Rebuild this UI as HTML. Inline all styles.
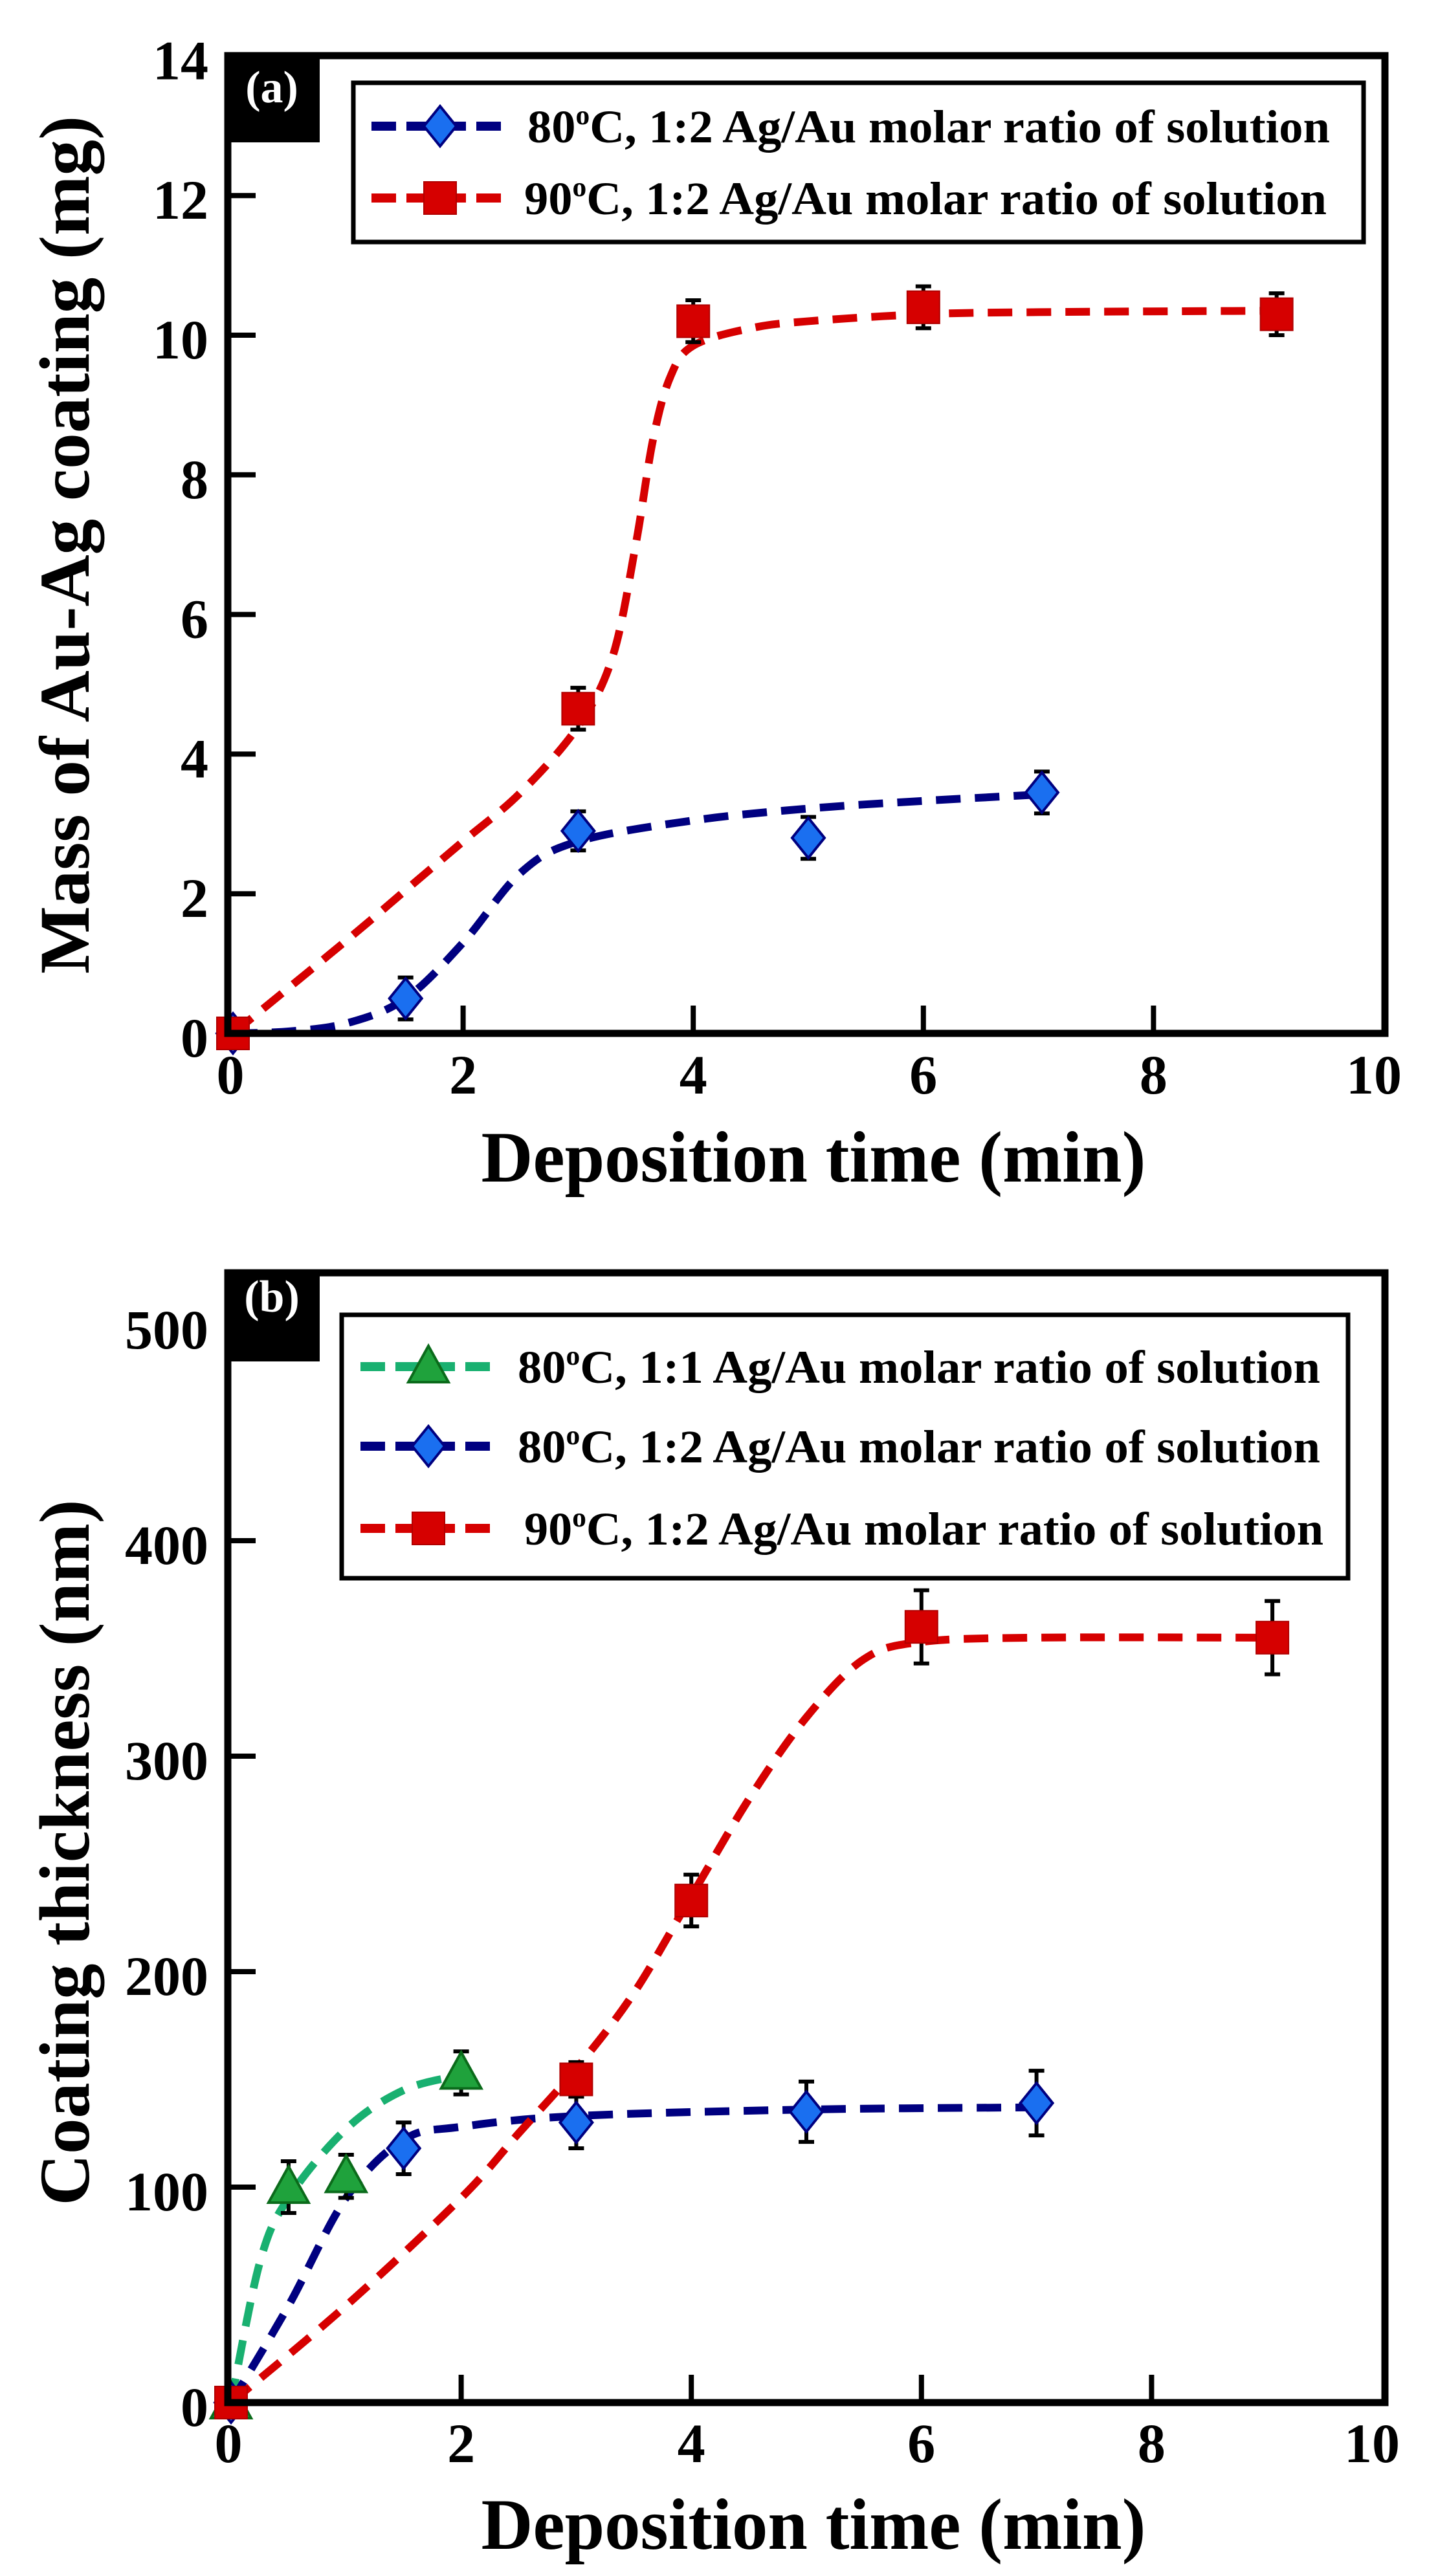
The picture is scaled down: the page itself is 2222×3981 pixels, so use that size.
<!DOCTYPE html>
<html><head><meta charset="utf-8"><style>
html,body{margin:0;padding:0;background:#fff;}
svg{display:block;}
text{font-family:"Liberation Serif",serif;font-weight:bold;fill:#000;}
</style></head><body>
<svg id="fig" width="2222" height="3981" viewBox="0 0 2222 3981" xmlns="http://www.w3.org/2000/svg"></svg>
<script>
// ---------- data: panel a (mass, mg) ----------
const aBlueX = [0, 1.5, 3, 5, 7.03];
const aBlueY = [0, 0.5, 2.9, 2.8, 3.45];
const aBlueErr = [0, 0.3, 0.28, 0.3, 0.3];
const aRedX = [0, 3, 4, 6, 9.07];
const aRedY = [0, 4.65, 10.2, 10.4, 10.3];
const aRedErr = [0, 0.3, 0.3, 0.3, 0.3];
const aBlueFitX = [0, 0.5, 1, 1.5, 2, 2.5, 3, 4, 5, 6, 7];
const aBlueFitY = [0, 0.03, 0.15, 0.5, 1.3, 2.3, 2.75, 3.05, 3.22, 3.33, 3.42];
const aRedFitX = [0, 1, 1.5, 2, 2.5, 3, 3.3, 3.5, 3.65, 3.8, 4, 4.5, 5, 6, 7, 9.07];
const aRedFitY = [0, 1.35, 2.05, 2.75, 3.45, 4.4, 5.4, 7.0, 8.5, 9.4, 9.85, 10.1, 10.2, 10.3, 10.33, 10.35];
const aYTicks = [0, 2, 4, 6, 8, 10, 12, 14];
const xTicks = [0, 2, 4, 6, 8, 10];
// ---------- data: panel b (thickness, nm) ----------
const bGreenX = [0, 0.5, 1, 2];
const bGreenY = [0, 100, 105, 153];
const bGreenErr = [0, 12, 10, 10];
const bBlueX = [0, 1.5, 3, 5, 7];
const bBlueY = [0, 118, 130, 135, 139];
const bBlueErr = [0, 12, 12, 14, 15];
const bRedX = [0, 3, 4, 6, 9.05];
const bRedY = [0, 150, 233, 360, 355];
const bRedErr = [0, 8, 12, 17, 17];
const bGreenFitX = [0, 0.25, 0.5, 1, 1.5, 2];
const bGreenFitY = [0, 65, 95, 127, 145, 152];
const bBlueFitX = [0, 0.5, 1, 1.5, 2, 3, 5, 7];
const bBlueFitY = [0, 45, 95, 122, 128, 133, 136, 137];
const bRedFitX = [0, 1, 2, 2.5, 3, 3.5, 4, 4.5, 5, 5.5, 6, 7, 9];
const bRedFitY = [0, 45, 95, 125, 155, 190, 235, 280, 318, 345, 353, 355, 355];
const bYTicks = [0, 100, 200, 300, 400, 500];

const NS = "http://www.w3.org/2000/svg";
const svg = document.getElementById('fig');
function mk(tag, attrs, parent){
  const e = document.createElementNS(NS, tag);
  for (const k in attrs) e.setAttribute(k, attrs[k]);
  (parent||svg).appendChild(e);
  return e;
}
const RED = '#d60000', BLUE_F = '#1a6ff0', NAVY = '#000080', GREEN_L = '#19b070', GREEN_F = '#1fa23c', GREEN_S = '#0b6b1b';

function catmull(pts){
  let d = 'M' + pts[0][0] + ',' + pts[0][1];
  for (let i = 0; i < pts.length - 1; i++){
    const p0 = pts[Math.max(0,i-1)], p1 = pts[i], p2 = pts[i+1], p3 = pts[Math.min(pts.length-1,i+2)];
    const c1x = p1[0] + (p2[0]-p0[0])/6, c1y = p1[1] + (p2[1]-p0[1])/6;
    const c2x = p2[0] - (p3[0]-p1[0])/6, c2y = p2[1] - (p3[1]-p1[1])/6;
    d += ' C' + c1x + ',' + c1y + ' ' + c2x + ',' + c2y + ' ' + p2[0] + ',' + p2[1];
  }
  return d;
}
function marker(g, type, cx, cy){
  let m;
  if (type === 'square'){
    m = mk('rect', {x: cx-25, y: cy-25, width: 50, height: 50, fill: RED, stroke: '#b00000', 'stroke-width': 2}, g);
  } else if (type === 'diamond'){
    m = mk('polygon', {points: `${cx},${cy-31} ${cx+25},${cy} ${cx},${cy+31} ${cx-25},${cy}`, fill: BLUE_F, stroke: NAVY, 'stroke-width': 4}, g);
  } else {
    m = mk('polygon', {points: `${cx},${cy-32} ${cx+31},${cy+24} ${cx-31},${cy+24}`, fill: GREEN_F, stroke: GREEN_S, 'stroke-width': 4}, g);
  }
  return m;
}

function panel(cfg){
  const {name, x0, xu, y0, yu, frame, yTicks, series, label, ytitle, ytitleCy, ytitleLen, xtitleY, xlabY, legend} = cfg;
  const X = v => x0 + v*xu, Y = v => y0 - v*yu;
  const g = mk('g', {});
  
  
  series.forEach(s => {
    const pts = s.fx.map((v,i) => [X(v), Y(s.fy[i])]);
    const p = mk('path', {d: catmull(pts), fill: 'none', stroke: s.line, 'stroke-width': 12, 'stroke-dasharray': '38 22'}, g);
    
    
  });
  series.forEach(s => {
    s.x.forEach((v,i) => {
      const cx = X(v), cy = Y(s.y[i]);
      if (s.err[i] > 0){
        const t = Y(s.y[i]+s.err[i]), b = Y(s.y[i]-s.err[i]);
        const eb = mk('path', {d: `M${cx},${t} V${b} M${cx-12},${t} H${cx+12} M${cx-12},${b} H${cx+12}`, stroke: '#000', 'stroke-width': 6, fill: 'none'}, g);
        
        
      }
      const m = marker(g, s.marker, cx, cy);
      
      
    });
  });
  const fr = mk('rect', {x: frame[0], y: frame[1], width: frame[2]-frame[0], height: frame[3]-frame[1], fill: 'none', stroke: '#000', 'stroke-width': 11}, g);
  
  
  xTicks.forEach(t => {
    if (t > 0 && t < 10){
      const tk = mk('line', {x1: X(t), x2: X(t), y1: frame[3], y2: frame[3]-43, stroke: '#000', 'stroke-width': 8}, g);
      
      
    }
    const tl = mk('text', {x: X(t)-(t===0?4:0)+(t===10?-15:0), y: xlabY, 'font-size': 86, 'text-anchor': 'middle'}, g);
    tl.textContent = t;
    
    
  });
  yTicks.forEach((t, i) => {
    if (i > 0 && i < yTicks.length-1){
      const tk = mk('line', {x1: frame[0], x2: frame[0]+43, y1: Y(t), y2: Y(t), stroke: '#000', 'stroke-width': 8}, g);
      
      
    }
    const tl = mk('text', {x: 322, y: Y(t)+36, 'font-size': 86, 'text-anchor': 'end'}, g);
    tl.textContent = t;
    
    
  });
  const lb = mk('rect', {x: frame[0]-3, y: frame[1]-3, width: 145, height: label.h, fill: '#000'}, g);
  
  
  const lt = mk('text', {x: frame[0]+68, y: frame[1]+label.base, 'font-size': 70, 'text-anchor': 'middle', style: 'fill:#fff'}, g);
  lt.textContent = label.text;
  
  
  const yt = mk('text', {x: 0, y: 0, 'font-size': 110, 'text-anchor': 'middle', transform: `translate(137,${ytitleCy}) rotate(-90)`, textLength: ytitleLen, lengthAdjust: 'spacingAndGlyphs'}, g);
  yt.textContent = ytitle;
  
  
  const xt = mk('text', {x: 1257, y: xtitleY, 'font-size': 112, 'text-anchor': 'middle', textLength: 1027, lengthAdjust: 'spacingAndGlyphs'}, g);
  xt.textContent = 'Deposition time (min)';
  
  
  const lg = mk('g', {}, g);
  
  
  const lbx = mk('rect', {x: legend.box[0], y: legend.box[1], width: legend.box[2]-legend.box[0], height: legend.box[3]-legend.box[1], fill: '#fff', stroke: '#000', 'stroke-width': 7}, lg);
  
  
  legend.items.forEach((it, i) => {
    const s = series.find(q => q.id === it.id);
    const cy = legend.ys[i];
    const ln = mk('line', {x1: legend.lx, x2: legend.lx+200, y1: cy, y2: cy, stroke: s.line, 'stroke-width': 14, 'stroke-dasharray': '38 16'}, lg);
    
    
    const m = marker(lg, s.marker, legend.mx, cy);
    
    
    const tx = mk('text', {x: it.tx, y: cy+25, 'font-size': 72, textLength: it.len, lengthAdjust: 'spacingAndGlyphs'}, lg);
    tx.innerHTML = it.deg + '<tspan font-size="42" dy="-28">o</tspan><tspan dy="28">C, ' + it.ratio + ' Ag/Au molar ratio of solution</tspan>';
    
    
  });
}

panel({
  name: 'panel-a', x0: 360, xu: 177.8, y0: 1597, yu: 107.9,
  frame: [352, 86, 2140, 1597], yTicks: aYTicks,
  series: [
    {id: 'a-80c-1-2', x: aBlueX, y: aBlueY, err: aBlueErr, fx: aBlueFitX, fy: aBlueFitY, line: NAVY, marker: 'diamond'},
    {id: 'a-90c-1-2', x: aRedX, y: aRedY, err: aRedErr, fx: aRedFitX, fy: aRedFitY, line: RED, marker: 'square'}
  ],
  label: {text: '(a)', h: 137, base: 72},
  ytitle: 'Mass of Au-Ag coating (mg)', ytitleCy: 842, ytitleLen: 1326,
  xtitleY: 1826, xlabY: 1690,
  legend: {box: [546, 128, 2107, 374], ys: [195, 306], lx: 574, mx: 680,
    items: [{id: 'a-80c-1-2', deg: '80', ratio: '1:2', tx: 815, len: 1240},
            {id: 'a-90c-1-2', deg: '90', ratio: '1:2', tx: 810, len: 1240}]}
});
panel({
  name: 'panel-b', x0: 357, xu: 177.8, y0: 3713, yu: 3.33,
  frame: [352, 1967, 2140, 3713], yTicks: bYTicks,
  series: [
    {id: 'b-80c-1-1', x: bGreenX, y: bGreenY, err: bGreenErr, fx: bGreenFitX, fy: bGreenFitY, line: GREEN_L, marker: 'triangle'},
    {id: 'b-80c-1-2', x: bBlueX, y: bBlueY, err: bBlueErr, fx: bBlueFitX, fy: bBlueFitY, line: NAVY, marker: 'diamond'},
    {id: 'b-90c-1-2', x: bRedX, y: bRedY, err: bRedErr, fx: bRedFitX, fy: bRedFitY, line: RED, marker: 'square'}
  ],
  label: {text: '(b)', h: 140, base: 60},
  ytitle: 'Coating thickness (nm)', ytitleCy: 2863, ytitleLen: 1091,
  xtitleY: 3939, xlabY: 3805,
  legend: {box: [528, 2032, 2083, 2439], ys: [2112, 2235, 2362], lx: 557, mx: 662,
    items: [{id: 'b-80c-1-1', deg: '80', ratio: '1:1', tx: 800, len: 1240},
            {id: 'b-80c-1-2', deg: '80', ratio: '1:2', tx: 800, len: 1240},
            {id: 'b-90c-1-2', deg: '90', ratio: '1:2', tx: 810, len: 1235}]}
});
</script>
</body></html>
